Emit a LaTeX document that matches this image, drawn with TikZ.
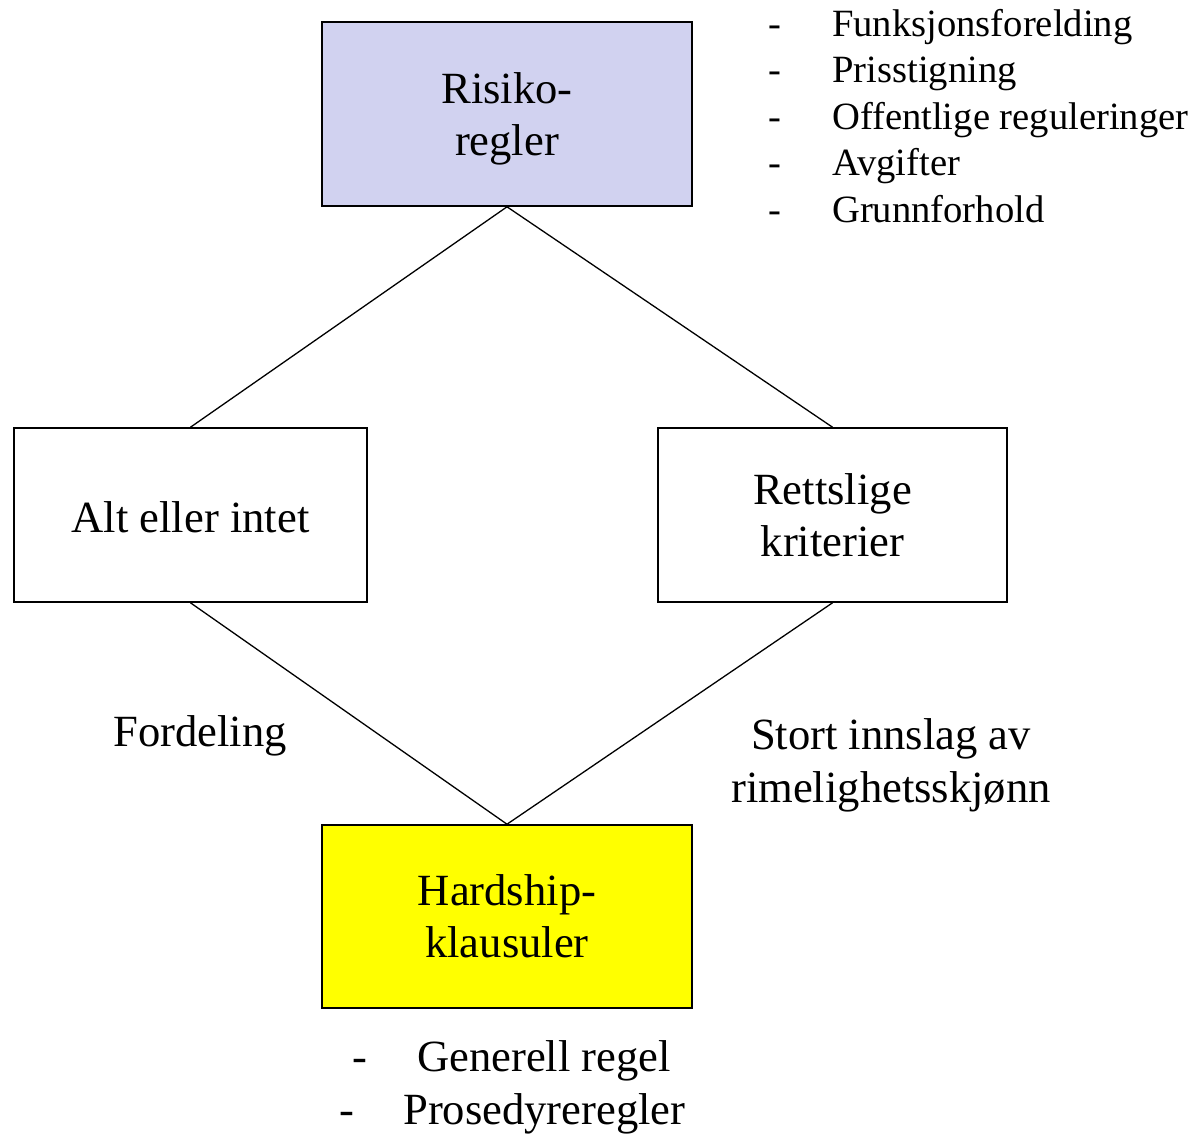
\documentclass[tikz,border=0pt]{standalone}
\usepackage{fontspec}
\setmainfont{Liberation Serif}
\definecolor{lav}{RGB}{209,210,240}
\definecolor{yel}{RGB}{255,255,0}
\begin{document}
\begin{tikzpicture}[x=1pt,y=-1pt,
  box/.style={draw=black,line width=1.6pt,inner sep=0pt,align=center,
    font=\fontsize{44.6}{52}\selectfont},
  lbl/.style={inner sep=0pt,anchor=base west,font=\fontsize{44.6}{52}\selectfont},
  clbl/.style={inner sep=0pt,anchor=base,font=\fontsize{44.6}{52}\selectfont},
  small/.style={inner sep=0pt,anchor=base west,font=\fontsize{38.6}{46}\selectfont},
  dsh/.style={inner sep=0pt,anchor=base,font=\fontsize{38.6}{46}\selectfont},
  conn/.style={line width=1.3pt}]
\useasboundingbox (0,0) rectangle (1198,1133);
% boxes
\node[box,fill=lav,minimum width=370pt,minimum height=184pt,
  label={[inner sep=0pt,align=center,font=\fontsize{44.6}{52}\selectfont,yshift=-5pt]center:Risiko-\\regler}] (top) at (507,114) {};
\node[box,minimum width=353pt,minimum height=174pt,
  label={[inner sep=0pt,font=\fontsize{44.6}{52}\selectfont,yshift=-2pt]center:Alt eller intet}] (left) at (190.5,515) {};
\node[box,minimum width=349pt,minimum height=174pt] (right) at (832.5,515) {Rettslige\\kriterier};
\node[box,fill=yel,minimum width=370pt,minimum height=183pt] (bot) at (507,916.5) {Hardship-\\klausuler};
% connectors
\draw[conn] (top.south) -- (left.north);
\draw[conn] (top.south) -- (right.north);
\draw[conn] (left.south) -- (bot.north);
\draw[conn] (right.south) -- (bot.north);
% labels
\node[lbl] (ford) at (113,746) {Fordeling};
\node[clbl] (st1) at (891,749) {Stort innslag av};
\node[clbl] (st2) at (891,802) {rimelighetsskjønn};
% right list
\node[dsh] (d1) at (775,36) {-};
\node[small] (r1) at (832,36) {Funksjonsforelding};
\node[dsh] (d2) at (775,82.5) {-};
\node[small] (r2) at (832,82.5) {Prisstigning};
\node[dsh] (d3) at (775,129) {-};
\node[small] (r3) at (832,129) {Offentlige reguleringer};
\node[dsh] (d4) at (775,175.5) {-};
\node[small] (r4) at (832,175.5) {Avgifter};
\node[dsh] (d5) at (775,222) {-};
\node[small] (r5) at (832,222) {Grunnforhold};
% bottom list
\node[clbl] (b1d) at (360,1071) {-};
\node[lbl] (b1) at (417,1071) {Generell regel};
\node[clbl] (b2d) at (347,1124) {-};
\node[lbl] (b2) at (403,1124) {Prosedyreregler};
\end{tikzpicture}
\end{document}
